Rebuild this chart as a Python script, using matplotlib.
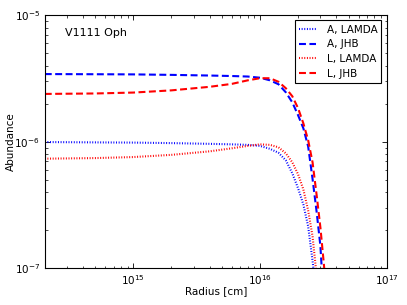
import numpy as np
import matplotlib
matplotlib.use('Agg')
import matplotlib.pyplot as plt

plt.rcParams['font.family'] = 'DejaVu Sans'
plt.rcParams['font.size'] = 7.5
plt.rcParams['lines.scale_dashes'] = False
plt.rcParams['xtick.direction'] = 'in'
plt.rcParams['ytick.direction'] = 'in'
plt.rcParams['xtick.top'] = True
plt.rcParams['ytick.right'] = True

# ==================== data ====================
radius = [2e14, 5e14, 1e15, 2e15, 4e15, 6e15, 8e15, 1e16, 1.2e16, 1.4e16,
          1.6e16, 1.8e16, 2.0e16, 2.2e16, 2.4e16, 2.6e16, 2.8e16, 3.0e16,
          3.2e16, 3.4e16]

a_jhb = [3.43e-6, 3.42e-6, 3.41e-6, 3.38e-6, 3.34e-6, 3.31e-6, 3.28e-6,
         3.21e-6, 3.06e-6, 2.85e-6, 2.46e-6, 2.05e-6, 1.62e-6, 1.28e-6,
         9.2e-7, 5.1e-7, 2.8e-7, 1.5e-7, 5e-8, 2e-8]
l_jhb = [2.39e-6, 2.41e-6, 2.45e-6, 2.55e-6, 2.72e-6, 2.87e-6, 3.06e-6,
         3.18e-6, 3.18e-6, 2.98e-6, 2.65e-6, 2.29e-6, 1.84e-6, 1.40e-6,
         1.03e-6, 6.9e-7, 3.8e-7, 2.1e-7, 1.06e-7, 5e-8]
a_lamda = [9.96e-7, 9.9e-7, 9.86e-7, 9.77e-7, 9.64e-7, 9.55e-7, 9.46e-7,
           9.29e-7, 8.8e-7, 8.19e-7, 7.14e-7, 5.64e-7, 4.29e-7, 3.2e-7,
           2.15e-7, 1.15e-7, 6e-8, 3e-8, 2e-8, 1e-8]
l_lamda = [7.36e-7, 7.44e-7, 7.58e-7, 7.89e-7, 8.41e-7, 8.89e-7, 9.29e-7,
           9.55e-7, 9.46e-7, 9.05e-7, 8.11e-7, 6.89e-7, 5.53e-7, 4.21e-7,
           2.87e-7, 1.79e-7, 8.8e-8, 4e-8, 2e-8, 1e-8]

series = [
    ('A, LAMDA', a_lamda, 'b', 'dot'),
    ('A, JHB', a_jhb, 'b', 'dash'),
    ('L, LAMDA', l_lamda, 'r', 'dot'),
    ('L, JHB', l_jhb, 'r', 'dash'),
]
dash_styles = {'dot': (0.7, 1.2), 'dash': (5, 2.5)}

# ==================== plot ====================
fig = plt.figure(figsize=(4.07, 3.05), dpi=100)
ax = fig.add_axes([0.11, 0.12, 0.84, 0.83])

for label, vals, color, style in series:
    ax.plot(radius, vals, color=color, lw=1.5, dashes=dash_styles[style],
            label=label)

ax.set_xscale('log')
ax.set_yscale('log')
ax.set_xlim(2e14, 1e17)
ax.set_ylim(1e-7, 1e-5)

ax.set_xlabel('Radius [cm]')
ax.set_ylabel('Abundance')
ax.xaxis.set_label_coords(0.5, -0.071)
ax.yaxis.set_label_coords(-0.085, 0.5)
ax.tick_params(which='major', length=3.5, width=0.6, labelsize=7.5)
ax.tick_params(which='minor', length=1.8, width=0.5)
for sp in ax.spines.values():
    sp.set_linewidth(0.8)

ax.text(0.058, 0.93, 'V1111 Oph', transform=ax.transAxes, fontsize=8,
        ha='left', va='center')

leg = ax.legend(loc='upper right', fancybox=False, framealpha=1,
                edgecolor='black', handlelength=1.6, handletextpad=1.0,
                borderpad=0.4, labelspacing=0.45, fontsize=7.5,
                borderaxespad=0.5)
leg.get_frame().set_linewidth(0.8)

fig.savefig('out.png', dpi=100)
